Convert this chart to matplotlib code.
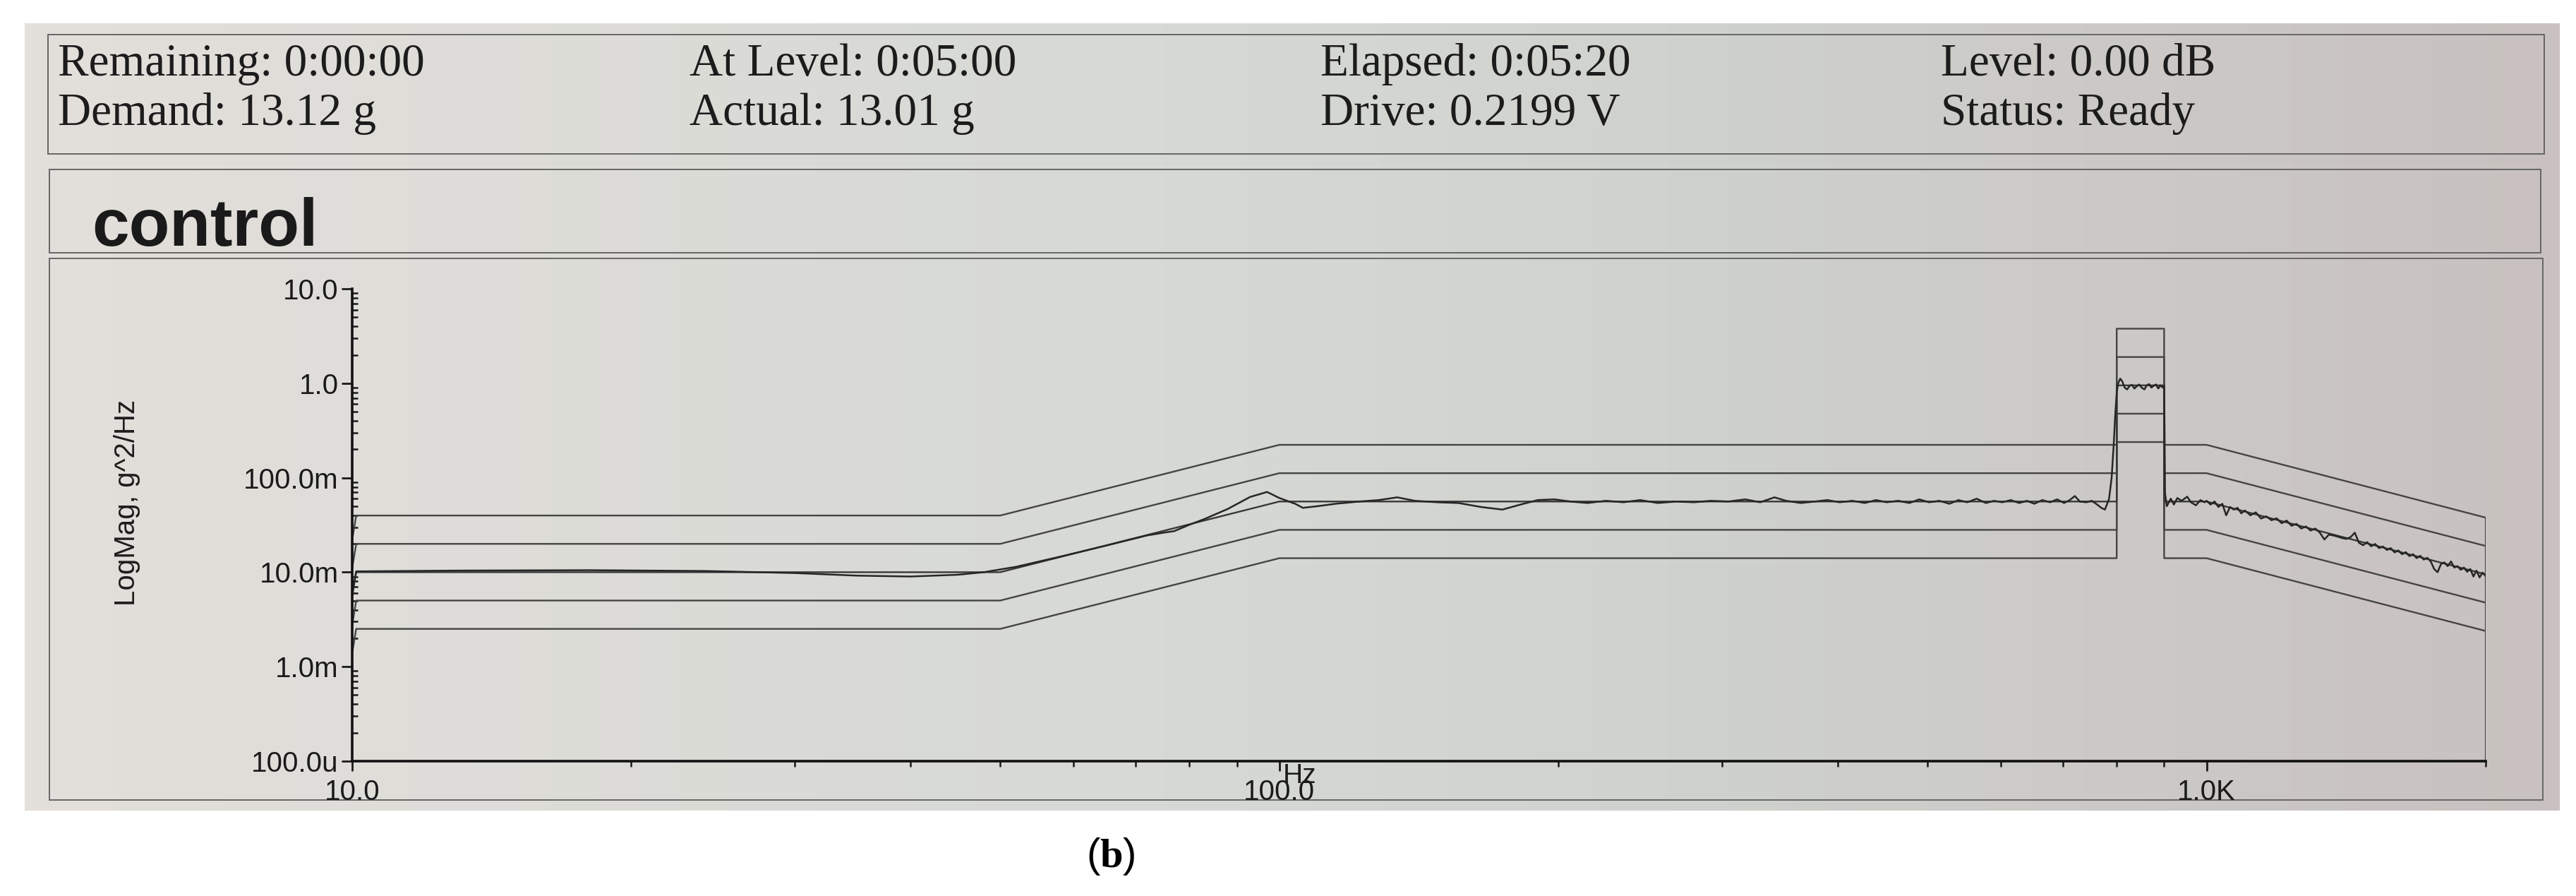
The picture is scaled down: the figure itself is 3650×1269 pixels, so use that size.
import numpy as np
import matplotlib.pyplot as plt
from matplotlib.colors import LinearSegmentedColormap
from matplotlib.patches import Rectangle
from matplotlib.ticker import FixedLocator, FixedFormatter, LogLocator, NullFormatter

plt.rcParams['font.family'] = ['Liberation Sans', 'DejaVu Sans']
plt.rcParams['mathtext.fontset'] = 'custom'
plt.rcParams['mathtext.rm'] = 'Liberation Serif'
plt.rcParams['mathtext.bf'] = 'Liberation Serif:bold'

# header read-outs
status_row1 = ["Remaining: 0:00:00", "At Level: 0:05:00", "Elapsed: 0:05:20", "Level: 0.00 dB"]
status_row2 = ["Demand: 13.12 g", "Actual: 13.01 g", "Drive: 0.2199 V", "Status: Ready"]
panel_title = "control"
caption = r"($\mathbf{b}$)"

# reference profile (g^2/Hz) and alarm/abort limits
profile_hz = [10, 10.1, 50, 100, 800, 800, 900, 900, 1000, 2000]
profile_g2 = [0.0055, 0.01, 0.01, 0.056, 0.056, 0.95, 0.95, 0.056, 0.056, 0.0095]
tol_db = [-6, -3, 3, 6]

ctrl_hz = [10, 10.1, 13, 18, 24, 30, 35, 40, 45, 48,
           52, 58, 65, 72, 75, 77, 80, 83, 88, 93, 97,
           100, 104, 106, 110, 115, 122, 128, 134, 140, 148, 156, 165, 174, 182, 190, 198,
           206, 215, 225, 235, 245, 256, 268, 280, 292, 305, 318, 330, 342, 352, 365, 378,
           390, 402, 415, 428, 440, 452, 465, 478, 490, 502, 515, 528, 540, 552, 565, 578,
           590, 602, 615, 628, 640, 652, 665, 678, 690, 702, 712, 721, 730, 742, 752, 762,
           770, 777, 785, 790, 794, 797, 800,
           803, 807, 811, 816, 821, 826, 831, 836, 841, 846, 851, 857, 862, 867, 872, 877,
           882, 887, 892, 897, 900, 901, 902,
           906, 915, 922, 930, 940, 953, 962, 974, 985, 995,
           1000, 1010, 1020, 1030, 1040, 1050, 1060, 1070, 1080, 1090, 1100, 1115, 1130,
           1145, 1160, 1175, 1190, 1205, 1220, 1235, 1250, 1265, 1280, 1295, 1310, 1325,
           1340, 1355, 1370, 1385, 1400, 1415, 1430, 1445, 1460, 1475, 1490, 1505, 1520,
           1535, 1550, 1565, 1580, 1595, 1610, 1625, 1640, 1655, 1670, 1685, 1700, 1715,
           1730, 1745, 1760, 1775, 1790, 1805, 1820, 1835, 1850, 1865, 1880, 1895, 1910,
           1925, 1940, 1955, 1970, 1985, 2000]
ctrl_g2 = [0.006, 0.0102, 0.0104, 0.0105, 0.0103, 0.0098, 0.0092, 0.0090, 0.0094, 0.0100,
           0.0114, 0.0146, 0.0191, 0.0245, 0.0262, 0.0272, 0.0318, 0.0365, 0.0468, 0.0626, 0.0707,
           0.061, 0.053, 0.048, 0.050, 0.053, 0.056, 0.058, 0.062, 0.057, 0.055, 0.054, 0.049,
           0.046, 0.052, 0.058, 0.059,
           0.056, 0.054, 0.057, 0.055, 0.058, 0.054, 0.056, 0.055, 0.057, 0.056, 0.059, 0.055,
           0.062, 0.057, 0.054, 0.056,
           0.058, 0.055, 0.057, 0.054, 0.058, 0.055, 0.057, 0.054, 0.059, 0.055, 0.057, 0.053,
           0.058, 0.055, 0.060, 0.054,
           0.057, 0.055, 0.058, 0.054, 0.057, 0.053, 0.058, 0.055, 0.059, 0.054, 0.058, 0.064,
           0.056, 0.055, 0.057, 0.052,
           0.048, 0.046, 0.060, 0.10, 0.22, 0.45, 0.80,
           1.00, 1.12, 1.05, 0.90, 0.86, 0.94, 0.96, 0.88, 0.93, 0.97, 0.90, 0.86, 0.95, 0.98,
           0.90, 0.94, 0.97, 0.88, 0.95, 0.90, 0.93, 0.30, 0.069,
           0.050, 0.060, 0.052, 0.061, 0.057, 0.063, 0.055, 0.051, 0.058, 0.055,
           0.057, 0.052, 0.056, 0.049, 0.053, 0.040, 0.049, 0.046, 0.048, 0.042, 0.045, 0.040,
           0.043, 0.037, 0.039, 0.0355, 0.0372, 0.0330, 0.0352, 0.0310, 0.0325, 0.0290, 0.0305,
           0.0276, 0.0290, 0.0262, 0.0222, 0.0250, 0.0245, 0.0238, 0.0230, 0.0225, 0.0235,
           0.0262, 0.0205, 0.0193, 0.0208, 0.0188, 0.0199, 0.0180, 0.0187, 0.0172, 0.0180,
           0.0162, 0.0170, 0.0155, 0.0163, 0.0148, 0.0155, 0.0141, 0.0149, 0.0136, 0.0142,
           0.0130, 0.0108, 0.0100, 0.0122, 0.0127, 0.0116, 0.0130, 0.0112, 0.0116, 0.0106,
           0.0112, 0.0101, 0.0108, 0.0090, 0.0104, 0.0088, 0.0099, 0.0091]

x_ticks = [10, 100, 1000]
x_labels = ["10.0", "100.0", "1.0K"]
y_ticks = [1e-4, 1e-3, 1e-2, 1e-1, 1, 10]
y_labels = ["100.0u", "1.0m", "10.0m", "100.0m", "1.0", "10.0"]

W, H = 3650, 1269
fig = plt.figure(figsize=(W / 100, H / 100), dpi=100)
fig.patch.set_facecolor('white')

# page background, drawn in pixel units
bg = fig.add_axes([0, 0, 1, 1])
bg.set_xlim(0, W)
bg.set_ylim(H, 0)
bg.axis('off')
paper = LinearSegmentedColormap.from_list(
    'paper', [(0, '#e3dfdb'), (0.45, '#d6d9d4'), (0.65, '#cfd2cd'), (1, '#c8c1bf')])
bg.imshow(np.linspace(0, 1, 256)[None, :], cmap=paper, aspect='auto',
          extent=(35, 3627, 1148, 33), zorder=0)

box_kw = dict(fill=False, ec='#666666', lw=1.4, zorder=1)
bg.add_patch(Rectangle((68, 49), 3605 - 68, 218 - 49, **box_kw))
bg.add_patch(Rectangle((70, 240), 3600 - 70, 358 - 240, **box_kw))
bg.add_patch(Rectangle((70, 366), 3603 - 70, 1133 - 366, **box_kw))

col_x = [82, 977, 1871, 2750]
for x, s1, s2 in zip(col_x, status_row1, status_row2):
    bg.text(x, 107, s1, fontsize=47, family='Liberation Serif', color='#1c1c1c', va='baseline')
    bg.text(x, 177, s2, fontsize=47, family='Liberation Serif', color='#1c1c1c', va='baseline')

bg.text(130, 348, panel_title, fontsize=68, fontweight='bold', color='#1a1a1a', va='baseline')
bg.text(180, 712, "LogMag, g^2/Hz", fontsize=29, rotation=90, ha='center', va='center',
        color='#1c1c1c')
bg.text(1574, 1213, caption, fontsize=42, ha='center', va='center', color='black')

# spectrum panel
ax = fig.add_axes([499 / W, 1 - 1078 / H, (3522 - 499) / W, (1078 - 409) / H])
ax.set_facecolor('none')
ax.set_xscale('log')
ax.set_yscale('log')
ax.set_xlim(10, 2000)
ax.set_ylim(1e-4, 10)

prof = np.array(profile_g2)
for db in tol_db:
    ax.plot(profile_hz, prof * 10 ** (db / 10), color='#444444', lw=1.7)
ax.plot(profile_hz, prof, color='#383838', lw=1.7)
ax.vlines(profile_hz[-1], y_ticks[0], prof[-1] * 10 ** (max(tol_db) / 10), color='#444444', lw=1.5)
ax.plot(ctrl_hz, ctrl_g2, color='#262626', lw=1.8)

for side in ['top', 'right']:
    ax.spines[side].set_visible(False)
for side in ['left', 'bottom']:
    ax.spines[side].set_linewidth(2.6)
    ax.spines[side].set_color('#111111')

ax.xaxis.set_major_locator(FixedLocator(x_ticks))
ax.xaxis.set_major_formatter(FixedFormatter(x_labels))
ax.xaxis.set_minor_locator(LogLocator(base=10, subs=np.arange(2, 10)))
ax.xaxis.set_minor_formatter(NullFormatter())
ax.yaxis.set_major_locator(FixedLocator(y_ticks))
ax.yaxis.set_major_formatter(FixedFormatter(y_labels))
ax.yaxis.set_minor_locator(LogLocator(base=10, subs=np.arange(2, 10)))
ax.yaxis.set_minor_formatter(NullFormatter())

ax.tick_params(axis='x', which='major', direction='out', length=10, width=2, pad=8,
               labelsize=29, colors='#1a1a1a')
ax.tick_params(axis='x', which='minor', direction='out', length=6, width=1.8, colors='#1a1a1a')
ax.tick_params(axis='y', which='major', direction='out', length=11, width=2, pad=3,
               labelsize=29, colors='#1a1a1a')
ax.tick_params(axis='y', which='minor', direction='in', length=6, width=1.8, colors='#1a1a1a')

# the unit label sits on top of the 100.0 tick label, as on the printout
ax.text(0.444, -0.004, "Hz", transform=ax.transAxes, ha='center', va='top', fontsize=28,
        color='#1a1a1a')

fig.savefig('out.png', dpi=100)
